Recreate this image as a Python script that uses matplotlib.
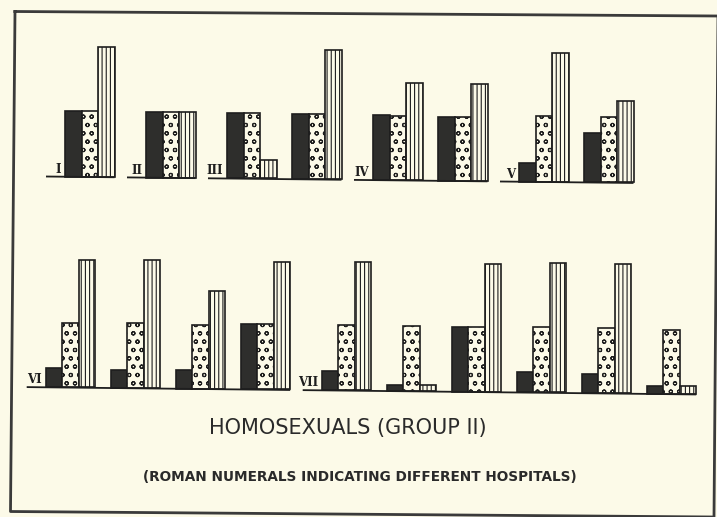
import numpy as np
import matplotlib.pyplot as plt

# hospitals (roman numerals) and number of bar groups drawn for each
top_hospitals = ['I', 'II', 'III', 'IV', 'V']
top_counts = [1, 1, 2, 2, 2]
bottom_hospitals = ['VI', 'VII']
bottom_counts = [4, 6]

# bar heights of every group: dark, dotted, striped
top_dark = [66, 66, 65, 65, 65, 64, 19, 49]
top_dotted = [66, 66, 65, 65, 64, 64, 66, 65]
top_striped = [130, 66, 18, 129, 97, 97, 129, 81]

bottom_dark = [19, 18, 19, 65, 19, 6, 65, 20, 19, 8]
bottom_dotted = [64, 65, 64, 65, 65, 65, 65, 65, 65, 64]
bottom_striped = [127, 128, 98, 127, 128, 6, 128, 129, 129, 8]

title = 'HOMOSEXUALS (GROUP II)'
subtitle = '(ROMAN NUMERALS INDICATING DIFFERENT HOSPITALS)'

bg = '#fcfae8'
ink = '#1e1e1e'
plt.rcParams['hatch.linewidth'] = 0.8

fig = plt.figure(figsize=(7.17, 5.17), dpi=100, facecolor=bg)
ax = fig.add_axes([0, 0, 1, 1])
ax.set_xlim(0, 717)
ax.set_ylim(0, 517)
ax.axis('off')
ax.set_facecolor(bg)

W = 16.5        # bar width
STEP_IN = 65    # step between groups of one hospital
STEP_OUT = 81   # step between hospitals
TILT = 0.011    # the page is scanned a bit crooked


def draw_row(hospitals, counts, dark, dotted, striped, x0, base0):
    # left edge of each group
    lefts = []
    x = x0
    for h, n in enumerate(counts):
        if h > 0:
            x += STEP_OUT - STEP_IN
        for k in range(n):
            lefts.append(x)
            x += STEP_IN
    lefts = np.array(lefts)
    bases = base0 - TILT * lefts

    kw = dict(width=W, align='edge', edgecolor=ink, linewidth=1.2)
    ax.bar(lefts, dark, bottom=bases, color='#2e2e2c', **kw)
    ax.bar(lefts + W, dotted, bottom=bases, color=bg, hatch='oo', **kw)
    ax.bar(lefts + 2 * W, striped, bottom=bases, color=bg, hatch='||||', **kw)

    i = 0
    for name, n in zip(hospitals, counts):
        xl = lefts[i]
        xr = lefts[i + n - 1] + 3 * W
        start = xl - 19
        ax.plot([start, xr], [base0 - TILT * start, base0 - TILT * xr],
                color=ink, lw=1.3, solid_capstyle='butt')
        ax.text(xl - 4, base0 - TILT * xl + 1, name, ha='right', va='bottom',
                family='DejaVu Serif', weight='bold', fontsize=8.5, color=ink)
        i += n


draw_row(top_hospitals, top_counts, top_dark, top_dotted, top_striped,
         65, 517 - 176)
draw_row(bottom_hospitals, bottom_counts, bottom_dark, bottom_dotted,
         bottom_striped, 45.7, 517 - 386.8)

# frame round the page
ax.plot([15, 718, 714, 10.5, 15], [517 - 11.5, 517 - 16, 0, 517 - 511.5, 517 - 11.5],
        color='#3a3a3a', lw=2)

ax.text(348, 517 - 428, title, ha='center', va='center',
        fontsize=15, color='#2a2a2a', family='DejaVu Sans')
ax.text(360, 517 - 477, subtitle, ha='center', va='center',
        fontsize=9.8, weight='bold', color='#2a2a2a', family='DejaVu Sans')

fig.savefig('out.png', dpi=100, facecolor=bg)
